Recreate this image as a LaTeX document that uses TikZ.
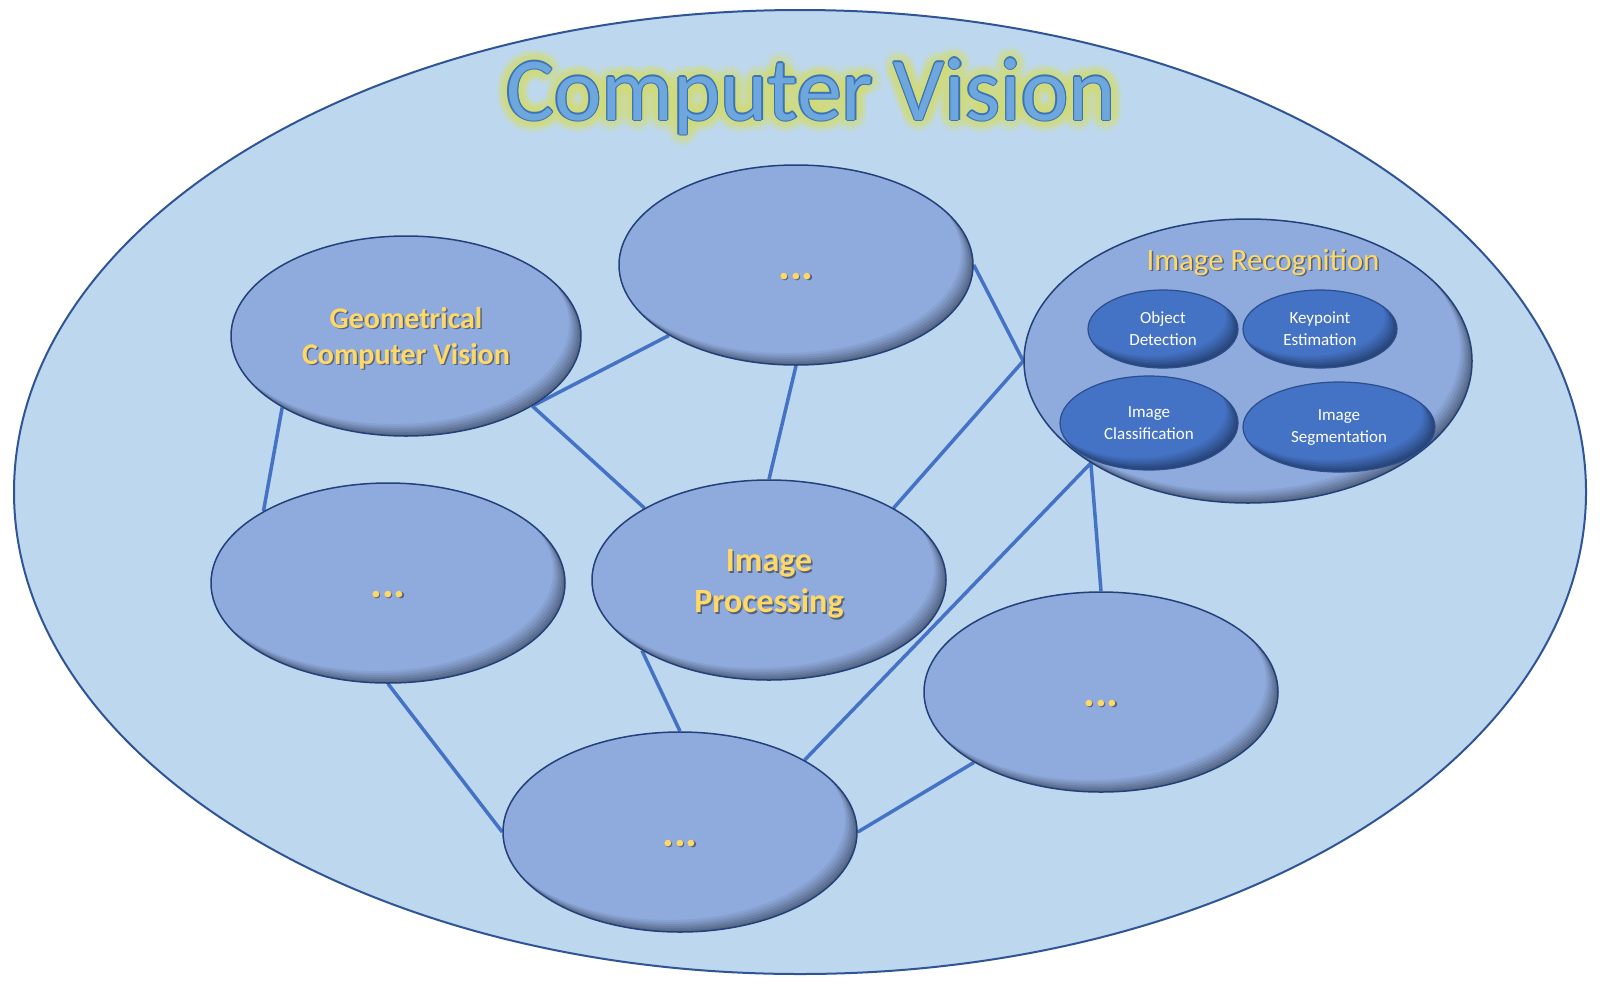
\documentclass[tikz,border=0pt]{standalone}
\usepackage{fontspec}
\setmainfont{Carlito}
\usetikzlibrary{shapes.geometric}
\definecolor{outerfill}{HTML}{BDD7EE}
\definecolor{outerline}{HTML}{2F5597}
\definecolor{nodefill}{HTML}{8FAADC}
\definecolor{nodeline}{HTML}{22407A}
\definecolor{innerfill}{HTML}{4472C4}
\definecolor{innerline}{HTML}{2A4E8E}
\definecolor{link}{HTML}{4472C4}
\definecolor{gold}{HTML}{FFD966}
\definecolor{goldshadow}{HTML}{56637E}
\definecolor{titleblue}{HTML}{6EA6DE}
\definecolor{titleedge}{HTML}{3A74B8}
\definecolor{glow}{HTML}{D4DF7A}
\pgfdeclarelayer{back}
\pgfdeclarelayer{links}
\pgfsetlayers{back,links,main}
\newcommand\shd[1]{\leavevmode\rlap{\kern1.5pt\raisebox{-1.5pt}{\textcolor{goldshadow}{#1}}}#1}
\newcommand\blob[5]{%
  \fill[#5] (#1,#2) ellipse [x radius=#3, y radius=#4];
  \begin{scope}
    \clip (#1,#2) ellipse [x radius=#3, y radius=#4];
    \foreach \k/\o in {2/0.10,4/0.09,6/0.08,8/0.07,10/0.06,12/0.05} {
      \fill[black, fill opacity=\o, even odd rule] (#1-400,#2-400) rectangle (#1+400,#2+400) (#1-\k,#2-\k) ellipse [x radius=#3, y radius=#4];
    }
  \end{scope}}
\tikzset{
  bubble/.style={ellipse, draw=nodeline, line width=1.5pt, inner sep=0pt,
    minimum width=354pt, minimum height=200pt, text=gold, align=center,
    font=\bfseries\fontsize{30}{36}\selectfont},
  dotsfont/.style={font=\bfseries\fontsize{44}{48}\selectfont},
  lbl/.style={inner sep=0pt, text=gold, align=center},
  small/.style={ellipse, draw=innerline, line width=1.2pt, inner sep=0pt,
    text=white, align=center, font=\fontsize{17}{22}\selectfont},
  link/.style={draw=link, line width=3.5pt},
  titlefont/.style={font=\fontsize{90}{100}\selectfont, inner sep=0pt, anchor=base},
}
\newcommand\dotstext{\raisebox{-14pt}[0pt][0pt]{\shd{...}}}
\begin{document}
\begin{tikzpicture}[x=1pt,y=-1pt]
\useasboundingbox (0,0) rectangle (1600,986);
\begin{pgfonlayer}{back}
  \fill[white] (0,0) rectangle (1600,986);
  \draw[fill=outerfill, draw=outerline, line width=2pt] (800,492) ellipse [x radius=786, y radius=482];
\end{pgfonlayer}

% title with glow
\foreach \a in {0,30,...,330}{\foreach \r in {3,6,9,12}{
  \node[titlefont, text=glow, text opacity=0.17] (glow-\a-\r) at ({811+\r*cos(\a)},{120+\r*sin(\a)}) {Computer Vision};
}}
\foreach \a in {0,45,...,315}{
  \node[titlefont, text=titleedge] (edge-\a) at ({811+1.4*cos(\a)},{120+1.4*sin(\a)}) {Computer Vision};
}
\node[titlefont, text=titleblue] (title) at (811,120) {Computer Vision};

% main nodes
\blob{796}{265}{177}{100}{nodefill}
\node[bubble, dotsfont] (top) at (796,265) {\dotstext};
\blob{406}{336}{175}{100}{nodefill}
\node[bubble, minimum width=350pt] (geo) at (406,336) {};
\node[lbl, font=\bfseries\fontsize{30}{36}\selectfont] (geolabel) at (406,339) {\shd{Geometrical}\\\shd{Computer Vision}};
\blob{388}{583}{177}{100}{nodefill}
\node[bubble, dotsfont] (left) at (388,583) {\dotstext};
\blob{769}{580}{177}{100}{nodefill}
\node[bubble] (proc) at (769,580) {};
\node[lbl, font=\bfseries\fontsize{34}{41}\selectfont] (proclabel) at (769,585) {\shd{Image}\\\shd{Processing}};
\blob{680}{832}{177}{100}{nodefill}
\node[bubble, dotsfont] (bottom) at (680,832) {\dotstext};
\blob{1101}{692}{177}{100}{nodefill}
\node[bubble, dotsfont] (right) at (1101,692) {\dotstext};
\blob{1248}{361}{224}{142}{nodefill}
\node[bubble, minimum width=448pt, minimum height=284pt] (ir) at (1248,361) {};
\node[text=gold, font=\fontsize{31}{36}\selectfont, anchor=base, inner sep=0pt] (irlabel) at (1263,270) {\shd{Image Recognition}};

% inner nodes
\blob{1163}{329}{75}{39}{innerfill}
\node[small, minimum width=150pt, minimum height=78pt] (od) at (1163,329) {Object\\Detection};
\blob{1320}{329}{77}{39}{innerfill}
\node[small, minimum width=154pt, minimum height=78pt] (ke) at (1320,329) {Keypoint\\Estimation};
\blob{1149}{423}{89}{47}{innerfill}
\node[small, minimum width=178pt, minimum height=94pt] (ic) at (1149,423) {Image\\Classification};
\blob{1339}{427}{96}{45}{innerfill}
\node[small, minimum width=192pt, minimum height=90pt] (is) at (1339,427) {Image\\Segmentation};

% connectors
\begin{pgfonlayer}{links}
  \draw[link] (geo.210) -- (left.150);
  \draw[link] (geo.331) -- (top.209);
  \draw[link] (geo.331) -- (proc.150);
  \draw[link] (top.270) -- (proc.90);
  \draw[link] (top.0) -- (ir.180);
  \draw[link] (ir.180) -- (proc.30);
  \draw[link] (ir.213) -- (bottom.30);
  \draw[link] (ir.213) -- (right.90);
  \draw[link] (left.270) -- (bottom.180);
  \draw[link] (proc.209) -- (bottom.90);
  \draw[link] (right.209) -- (bottom.0);
\end{pgfonlayer}
\end{tikzpicture}
\end{document}
